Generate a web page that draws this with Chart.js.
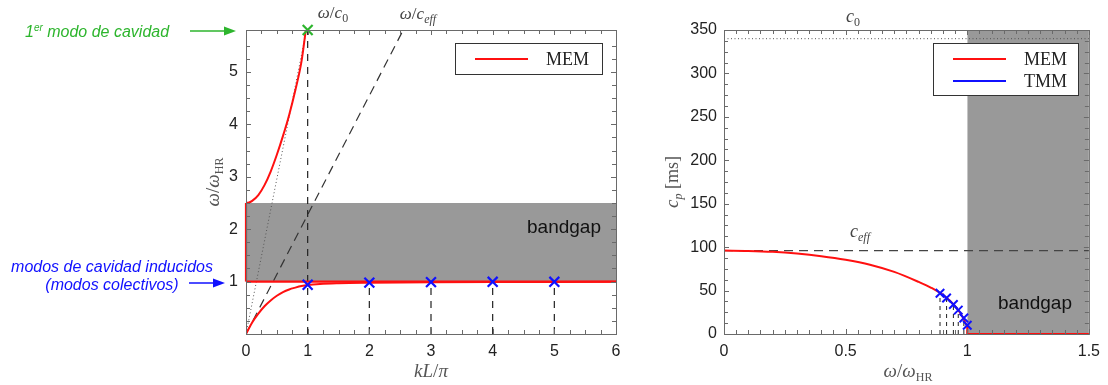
<!DOCTYPE html>
<html>
<head>
<meta charset="utf-8">
<script src="https://cdn.jsdelivr.net/npm/chart.js@4.4.0/dist/chart.umd.min.js"></script>
<style>
  body { margin: 0; background: #fff; width: 1108px; height: 385px; overflow: hidden; position: relative; }
  #left { position: absolute; left: 0; top: 0; }
  #right { position: absolute; left: 640px; top: 0; }
</style>
</head>
<body>
<canvas id="left" width="640" height="385"></canvas>
<canvas id="right" width="468" height="385"></canvas>
<script>
// ## LEFT PANEL: dispersion kL/pi vs w/wHR ##
const kLower = [0, 0.1, 0.2, 0.3, 0.4, 0.5, 0.6, 0.7, 0.8, 0.9, 1, 1.2, 1.5, 2, 2.5, 3, 4, 5, 6];
const wLower = [0, 0.22, 0.39, 0.53, 0.64, 0.73, 0.8, 0.85, 0.885, 0.915, 0.935, 0.955, 0.968, 0.978, 0.984, 0.988, 0.992, 0.994, 0.995];
const kUpper = [0, 0.05, 0.1, 0.2, 0.3, 0.4, 0.5, 0.6, 0.7, 0.8, 0.9, 0.97];
const wUpper = [2.5, 2.51, 2.54, 2.65, 2.84, 3.1, 3.42, 3.78, 4.18, 4.65, 5.2, 5.8];
const kModes = [1, 2, 3, 4, 5];
const wModes = [0.94, 0.98, 0.99, 0.995, 0.995];
const firstMode = [1, 5.8];
const gapLeft = [1, 2.5];
const lineC0 = [0.98, 5.8];
const lineCeff = [2.55, 5.8];
const leftMax = [6, 5.8];

// ## RIGHT PANEL: phase velocity vs w/wHR ##
const fMem = [0, 0.1, 0.2, 0.3, 0.4, 0.5, 0.6, 0.7, 0.8, 0.85, 0.9, 0.95, 0.98, 1];
const cMem = [96, 95.6, 94.6, 92.6, 89.6, 85.5, 79.8, 71.5, 60, 53.5, 45, 32, 20, 8];
const fTmm = [0.888, 0.915, 0.943, 0.963, 0.986, 1.0];
const cTmm = [47, 41.5, 34, 27.5, 18.5, 10];
const c0 = 340;
const cEff = 96;
const gapRight = [1, 1.5];
const rightMax = [1.5, 350];

const RED = "#ff1010";
const BLUE = "#1010ff";
const GREEN = "#2db52d";
const GRAY = "#999999";

Chart.defaults.font.family = "Liberation Sans";

function pts(xs, ys) {
  return xs.map((x, i) => ({ x: x, y: ys[i] }));
}

function seg(x1, y1, x2, y2) {
  return [{ x: x1, y: y1 }, { x: x2, y: y2 }];
}

// text made of pieces (italic / subscript) for the math labels
function mathText(ctx, parts, x, y, rot, align) {
  ctx.save();
  ctx.translate(x, y);
  if (rot) ctx.rotate(rot);
  let w = 0;
  parts.forEach((p) => {
    ctx.font = p.font;
    w += ctx.measureText(p.t).width;
  });
  let cx = align === "left" ? 0 : -w / 2;
  ctx.textBaseline = "alphabetic";
  parts.forEach((p) => {
    ctx.font = p.font;
    ctx.fillStyle = p.color;
    ctx.fillText(p.t, cx, p.dy || 0);
    cx += ctx.measureText(p.t).width;
  });
  ctx.restore();
}

function it(t, color, size) {
  return { t: t, font: "italic " + (size || 17) + 'px "Liberation Serif"', color: color };
}
function rm(t, color, size) {
  return { t: t, font: (size || 17) + 'px "Liberation Serif"', color: color };
}
function sub(t, color, italic) {
  return { t: t, font: (italic ? "italic " : "") + '12px "Liberation Serif"', color: color, dy: 4 };
}

function arrow(ctx, x1, x2, y, color) {
  ctx.save();
  ctx.strokeStyle = color;
  ctx.fillStyle = color;
  ctx.lineWidth = 1.5;
  ctx.beginPath();
  ctx.moveTo(x1, y);
  ctx.lineTo(x2 - 8, y);
  ctx.stroke();
  ctx.beginPath();
  ctx.moveTo(x2, y);
  ctx.lineTo(x2 - 12, y - 4.5);
  ctx.lineTo(x2 - 12, y + 4.5);
  ctx.closePath();
  ctx.fill();
  ctx.restore();
}

function legendBox(ctx, x, y, w, h, items) {
  ctx.save();
  ctx.fillStyle = "#fff";
  ctx.fillRect(x, y, w, h);
  ctx.strokeStyle = "#333";
  ctx.lineWidth = 1;
  ctx.strokeRect(x + 0.5, y + 0.5, w, h);
  items.forEach((item, i) => {
    const ly = y + 16 + i * 22;
    ctx.strokeStyle = item.color;
    ctx.lineWidth = 2;
    ctx.beginPath();
    ctx.moveTo(x + 20, ly);
    ctx.lineTo(x + 73, ly);
    ctx.stroke();
    ctx.fillStyle = "#222";
    ctx.font = '18px "Liberation Serif"';
    ctx.textBaseline = "middle";
    ctx.fillText(item.label, x + 91, ly + 1);
  });
  ctx.restore();
}

function multipleOf(v, step) {
  return Math.abs(v / step - Math.round(v / step)) < 1e-6;
}

// matlab style box with inward ticks on all sides
function makeFrame(majorX, majorY, extra) {
  return {
    id: "frame",
    afterDraw(chart) {
      const ctx = chart.ctx;
      const a = chart.chartArea;
      const xs = chart.scales.x;
      const ys = chart.scales.y;
      ctx.save();
      ctx.strokeStyle = "#6a6a6a";
      ctx.lineWidth = 1;
      xs.ticks.forEach((t) => {
        const px = Math.round(xs.getPixelForValue(t.value)) + 0.5;
        const len = multipleOf(t.value, majorX) ? 5 : 4;
        ctx.beginPath();
        ctx.moveTo(px, a.bottom);
        ctx.lineTo(px, a.bottom - len);
        ctx.moveTo(px, a.top);
        ctx.lineTo(px, a.top + len);
        ctx.stroke();
      });
      ys.ticks.forEach((t) => {
        const py = Math.round(ys.getPixelForValue(t.value)) + 0.5;
        const len = multipleOf(t.value, majorY) ? 5 : 4;
        ctx.beginPath();
        ctx.moveTo(a.left, py);
        ctx.lineTo(a.left + len, py);
        ctx.moveTo(a.right, py);
        ctx.lineTo(a.right - len, py);
        ctx.stroke();
      });
      ctx.strokeRect(a.left + 0.5, a.top + 0.5, a.right - a.left, a.bottom - a.top);
      ctx.restore();
      extra(chart, ctx);
    },
  };
}

function axisFont() {
  return { family: "Liberation Sans", size: 16 };
}

// ## LEFT CHART ##
new Chart(document.getElementById("left").getContext("2d"), {
  type: "line",
  data: {
    datasets: [
      {
        data: pts(kModes, wModes),
        showLine: false,
        pointStyle: "crossRot",
        pointRadius: 7,
        borderColor: BLUE,
        borderWidth: 2.2,
        clip: false,
      },
      {
        data: [{ x: firstMode[0], y: firstMode[1] }],
        showLine: false,
        pointStyle: "crossRot",
        pointRadius: 7,
        borderColor: GREEN,
        borderWidth: 2.2,
        clip: false,
      },
      { data: pts(kLower, wLower), borderColor: RED, borderWidth: 2, pointRadius: 0, cubicInterpolationMode: "monotone" },
      { data: pts(kUpper, wUpper), borderColor: RED, borderWidth: 2, pointRadius: 0, cubicInterpolationMode: "monotone" },
      { data: seg(0, gapLeft[0], leftMax[0], gapLeft[0]), borderColor: RED, borderWidth: 2.2, pointRadius: 0, clip: 3 },
      { data: seg(0, gapLeft[0], 0, gapLeft[1]), borderColor: RED, borderWidth: 2.2, pointRadius: 0, clip: 3 },
      { data: seg(kModes[0], 0, kModes[0], firstMode[1]), borderColor: "#222", borderWidth: 1.2, borderDash: [7, 6], pointRadius: 0 },
      ...kModes.slice(1).map((k, i) => ({
        data: seg(k, 0, k, wModes[i + 1]),
        borderColor: "#222",
        borderWidth: 1.2,
        borderDash: [7, 6],
        pointRadius: 0,
      })),
      { data: seg(0, 0, lineC0[0], lineC0[1]), borderColor: "#555", borderWidth: 1, borderDash: [1, 2.5], pointRadius: 0 },
      { data: seg(0, 0, lineCeff[0], lineCeff[1]), borderColor: "#333", borderWidth: 1.2, borderDash: [9, 6], pointRadius: 0 },
      {
        data: seg(0, gapLeft[1], leftMax[0], gapLeft[1]),
        borderWidth: 0,
        pointRadius: 0,
        backgroundColor: GRAY,
        fill: { value: gapLeft[0] },
      },
    ],
  },
  options: {
    responsive: false,
    animation: false,
    devicePixelRatio: 1,
    layout: { padding: { left: 196, right: 24, top: 30, bottom: 0 } },
    scales: {
      x: {
        type: "linear",
        min: 0,
        max: leftMax[0],
        afterFit: (s) => { s.height = 51; },
        grid: { display: false, drawTicks: false, tickLength: 0 },
        border: { display: false },
        ticks: {
          stepSize: 0.25,
          autoSkip: false,
          maxRotation: 0,
          padding: 8,
          color: "#222",
          font: axisFont(),
          callback: (v) => (multipleOf(v, 1) ? String(Math.round(v)) : ""),
        },
      },
      y: {
        type: "linear",
        min: 0,
        max: leftMax[1],
        afterFit: (s) => { s.width = 50; },
        grid: { display: false, drawTicks: false, tickLength: 0 },
        border: { display: false },
        ticks: {
          stepSize: 0.25,
          autoSkip: false,
          padding: 8,
          color: "#222",
          font: axisFont(),
          callback: (v) => (multipleOf(v, 1) && v >= 1 && v <= 5 ? String(Math.round(v)) : ""),
        },
      },
    },
    plugins: {
      legend: { display: false },
      tooltip: { enabled: false },
    },
  },
  plugins: [
    makeFrame(1, 1, (chart, ctx) => {
      const lc = "#555";
      mathText(ctx, [it("ω", lc, 19), rm("/", lc, 19), it("ω", lc, 19), sub("HR", lc)], 219, 182, -Math.PI / 2);
      mathText(ctx, [it("kL", lc, 19), rm("/", lc, 19), it("π", lc, 19)], 431, 377);
      const tc = "#444";
      mathText(ctx, [it("ω", tc, 17), rm("/", tc, 17), it("c", tc, 17), sub("0", tc)], 333, 18);
      mathText(ctx, [it("ω", tc, 17), rm("/", tc, 17), it("c", tc, 17), sub("eff", tc, true)], 418, 19);

      ctx.save();
      ctx.fillStyle = "#111";
      ctx.font = '19px "Liberation Sans"';
      ctx.textAlign = "center";
      ctx.textBaseline = "middle";
      ctx.fillText("bandgap", 564, 228);
      ctx.restore();

      legendBox(ctx, 455, 43, 147, 31, [{ label: "MEM", color: RED }]);

      // annotations
      mathText(ctx, [
        { t: "1", font: 'italic 16px "Liberation Sans"', color: GREEN },
        { t: "er", font: 'italic 10px "Liberation Sans"', color: GREEN, dy: -6 },
        { t: " modo de cavidad", font: 'italic 16px "Liberation Sans"', color: GREEN },
      ], 25, 37, 0, "left");
      arrow(ctx, 190, 236, 31, GREEN);

      ctx.save();
      ctx.fillStyle = BLUE;
      ctx.font = 'italic 16px "Liberation Sans"';
      ctx.textAlign = "center";
      ctx.fillText("modos de cavidad inducidos", 112, 272);
      ctx.fillText("(modos colectivos)", 112, 290);
      ctx.restore();
      arrow(ctx, 189, 225, 283, BLUE);
    }),
  ],
});

// ## RIGHT CHART ##
new Chart(document.getElementById("right").getContext("2d"), {
  type: "line",
  data: {
    datasets: [
      {
        data: pts(fTmm, cTmm),
        showLine: false,
        pointStyle: "crossRot",
        pointRadius: 6,
        borderColor: BLUE,
        borderWidth: 2,
        clip: false,
      },
      { data: pts(fMem, cMem), borderColor: RED, borderWidth: 2, pointRadius: 0, cubicInterpolationMode: "monotone" },
      {
        data: [{ x: gapRight[0], y: cMem[cMem.length - 1] }, { x: gapRight[0], y: 0 }, { x: gapRight[1], y: 0 }],
        borderColor: RED,
        borderWidth: 2,
        pointRadius: 0,
        clip: 3,
      },
      ...fTmm.map((f, i) => ({
        data: seg(f, 0, f, cTmm[i]),
        borderColor: "#222",
        borderWidth: 1,
        borderDash: [4, 4],
        pointRadius: 0,
      })),
      { data: seg(0, c0, rightMax[0], c0), borderColor: "#555", borderWidth: 1, borderDash: [1, 2.5], pointRadius: 0 },
      { data: seg(0, cEff, rightMax[0], cEff), borderColor: "#444", borderWidth: 1.2, borderDash: [9, 6], pointRadius: 0 },
      {
        data: seg(gapRight[0], rightMax[1], gapRight[1], rightMax[1]),
        borderWidth: 0,
        pointRadius: 0,
        backgroundColor: GRAY,
        fill: { value: 0 },
      },
    ],
  },
  options: {
    responsive: false,
    animation: false,
    devicePixelRatio: 1,
    layout: { padding: { left: 34, right: 16, top: 30, bottom: 0 } },
    scales: {
      x: {
        type: "linear",
        min: 0,
        max: rightMax[0],
        afterFit: (s) => { s.height = 51; },
        grid: { display: false, drawTicks: false, tickLength: 0 },
        border: { display: false },
        ticks: {
          stepSize: 0.05,
          autoSkip: false,
          maxRotation: 0,
          padding: 8,
          color: "#222",
          font: axisFont(),
          callback: (v) => (multipleOf(v, 0.5) ? String(Math.round(v * 10) / 10) : ""),
        },
      },
      y: {
        type: "linear",
        min: 0,
        max: rightMax[1],
        afterFit: (s) => { s.width = 50; },
        grid: { display: false, drawTicks: false, tickLength: 0 },
        border: { display: false },
        ticks: {
          stepSize: 12.5,
          autoSkip: false,
          padding: 7,
          color: "#222",
          font: axisFont(),
          callback: (v) => (multipleOf(v, 50) ? String(Math.round(v)) : ""),
        },
      },
    },
    plugins: {
      legend: { display: false },
      tooltip: { enabled: false },
    },
  },
  plugins: [
    makeFrame(0.5, 50, (chart, ctx) => {
      const lc = "#555";
      mathText(ctx, [it("c", lc, 19), sub("p", lc, true), rm(" [ms]", lc, 18)], 38, 182, -Math.PI / 2);
      mathText(ctx, [it("ω", lc, 19), rm("/", lc, 19), it("ω", lc, 19), sub("HR", lc)], 268, 377);
      const tc = "#444";
      mathText(ctx, [it("c", tc, 18), sub("0", tc)], 213, 22);
      mathText(ctx, [it("c", tc, 18), sub("eff", tc, true)], 220, 237);

      ctx.save();
      ctx.fillStyle = "#111";
      ctx.font = '19px "Liberation Sans"';
      ctx.textAlign = "center";
      ctx.textBaseline = "middle";
      ctx.fillText("bandgap", 395, 304);
      ctx.restore();

      legendBox(ctx, 293, 43, 145, 52, [
        { label: "MEM", color: RED },
        { label: "TMM", color: BLUE },
      ]);
    }),
  ],
});
</script>
</body>
</html>
